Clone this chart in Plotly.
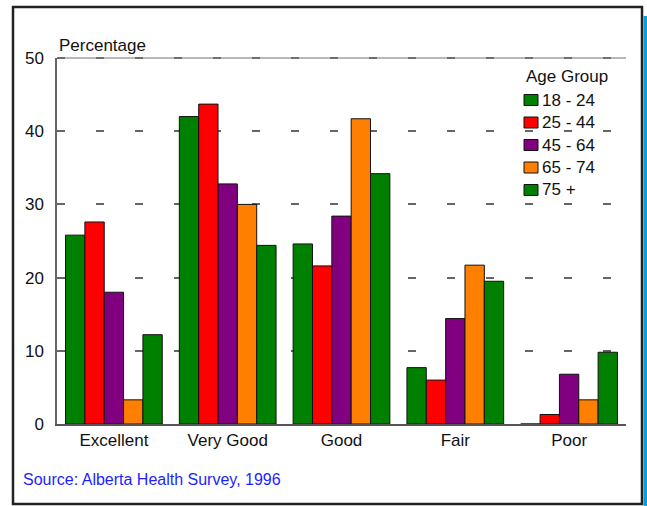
import plotly.graph_objects as go

categories = ["Excellent", "Very Good", "Good", "Fair", "Poor"]
age_groups = ["18 - 24", "25 - 44", "45 - 64", "65 - 74", "75 +"]
values_18_24 = [25.8, 42.0, 24.6, 7.7, 0.0]
values_25_44 = [27.6, 43.7, 21.6, 6.0, 1.3]
values_45_64 = [18.0, 32.8, 28.4, 14.4, 6.8]
values_65_74 = [3.3, 30.0, 41.7, 21.7, 3.3]
values_75_plus = [12.2, 24.4, 34.2, 19.5, 9.8]
series_values = [values_18_24, values_25_44, values_45_64, values_65_74, values_75_plus]
colors = ["#008000", "#ff0000", "#800080", "#ff8000", "#008000"]
y_ticks = [0, 10, 20, 30, 40, 50]
legend_title = "Age Group"

FONT = "Liberation Sans, Arial, sans-serif"

fig = go.Figure()
for name, vals, col in zip(age_groups, series_values, colors):
    fig.add_trace(go.Bar(
        x=categories, y=vals, name=name, showlegend=False,
        marker=dict(color=col, line=dict(color="#111111", width=1)),
    ))

W, H = 647, 506
L, R, T, B = 57, 21, 58, 82
pw, ph = W - L - R, H - T - B

def px(xp):
    return (xp - L) / pw

def py(yp):
    return (H - B - yp) / ph

shapes = [
    # outer frame
    dict(type="rect", xref="paper", yref="paper",
         x0=px(13), x1=px(642), y0=py(504), y1=py(7),
         line=dict(color="#222222", width=2.5), fillcolor="rgba(0,0,0,0)", layer="below"),
    # blue strip on right edge
    dict(type="rect", xref="paper", yref="paper",
         x0=px(643.5), x1=px(647), y0=py(506), y1=py(16),
         line=dict(width=0), fillcolor="#0aa0d2", layer="above"),
    # plot top line
    dict(type="line", xref="paper", yref="paper",
         x0=0, x1=1, y0=1, y1=1, line=dict(color="#a0a0a0", width=1.5), layer="below"),
    dict(type="line", xref="paper", yref="paper",
         x0=0, x1=1, y0=1, y1=1, line=dict(color="#555555", width=1.5, dash="8px,31px"),
         layer="below"),
]
annotations = [
    dict(text="Percentage", xref="paper", yref="paper", x=0, y=py(45),
         xanchor="left", yanchor="middle", showarrow=False, font=dict(size=17)),
    dict(text="Source: Alberta Health Survey, 1996", xref="paper", yref="paper",
         x=px(21), y=py(479), xanchor="left", yanchor="middle", showarrow=False,
         font=dict(size=16, color="#1e1eff")),
    dict(text=legend_title, xref="paper", yref="paper", x=px(524), y=py(77),
         xanchor="left", yanchor="middle", showarrow=False, font=dict(size=17)),
]
# legend entries (key)
for i, (name, col) in enumerate(zip(age_groups, colors)):
    yc = 100 + i * 22.5
    shapes.append(dict(type="rect", xref="paper", yref="paper",
                       x0=px(524), x1=px(538), y0=py(yc + 5.5), y1=py(yc - 5.5),
                       line=dict(color="#111111", width=1), fillcolor=col, layer="above"))
    annotations.append(dict(text=name, xref="paper", yref="paper", x=px(540), y=py(yc),
                            xanchor="left", yanchor="middle", showarrow=False,
                            font=dict(size=17)))

fig.update_layout(
    width=W, height=H,
    margin=dict(l=L, r=R, t=T, b=B, pad=0),
    paper_bgcolor="white", plot_bgcolor="white",
    barmode="group", bargap=0.15, bargroupgap=0,
    font=dict(family=FONT, size=17, color="#111111"),
    showlegend=False,
    xaxis=dict(
        showline=True, linecolor="#555555", linewidth=1.5,
        showgrid=False, ticks="", ticklabelstandoff=0,
        tickfont=dict(size=17),
    ),
    yaxis=dict(
        range=[0, 50], tickvals=y_ticks, showline=True, linecolor="#666666", linewidth=1.5,
        ticks="inside", ticklen=6, tickcolor="#666666", tickwidth=1.5,
        showgrid=True, gridcolor="#666666", gridwidth=1.5, griddash="8px,31px",
        zeroline=False, ticklabelstandoff=8, tickfont=dict(size=17),
    ),
    shapes=shapes,
    annotations=annotations,
)

fig.write_html("out.html", config={"displayModeBar": False},
               post_script="document.body.style.margin='0';document.body.style.overflow='hidden';")
